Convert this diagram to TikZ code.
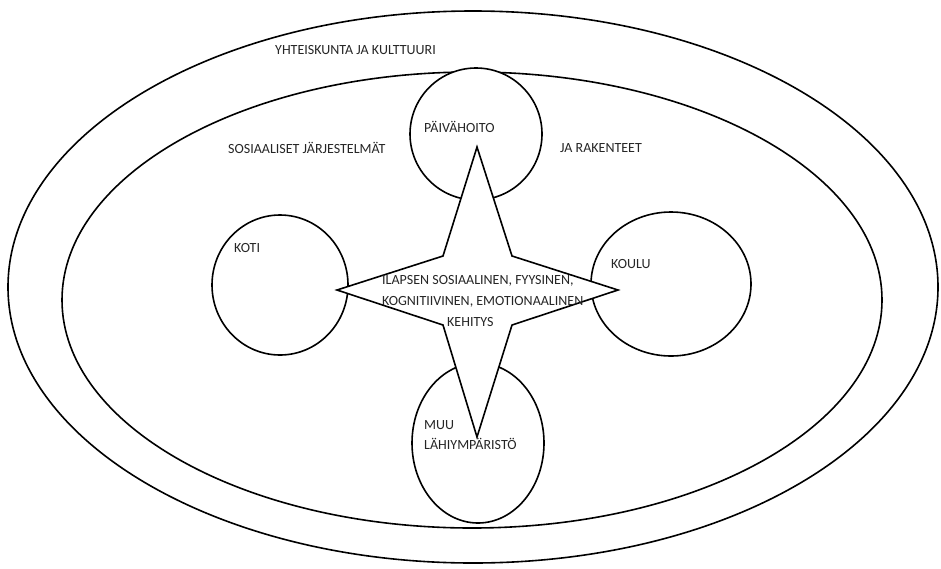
\documentclass[tikz,border=0pt]{standalone}
\usepackage{fontspec}
\setmainfont{Carlito}
\begin{document}
\begin{tikzpicture}[x=1pt,y=-1pt,
  shape line/.style={draw=black,line width=1.6pt},
  lbl/.style={anchor=west,inner sep=0pt,font=\fontsize{14}{16}\selectfont,text=black!85}]
\useasboundingbox (0,0) rectangle (941,568);
\fill[white] (0,0) rectangle (941,568);
% outer and inner ellipses
\draw[shape line] (473,287) ellipse [x radius=465, y radius=276];
\draw[shape line] (472,300) ellipse [x radius=410, y radius=228];
% four circles
\draw[shape line,fill=white] (476,134) ellipse [x radius=66, y radius=66];
\draw[shape line,fill=white] (280,285) ellipse [x radius=68, y radius=70];
\draw[shape line,fill=white] (671,284) ellipse [x radius=80, y radius=72];
\draw[shape line,fill=white] (478,443) ellipse [x radius=66, y radius=80];
% star
\draw[shape line,fill=white,line join=miter]
  (477,147) -- (512,256) -- (618,290) -- (512,325) -- (477,437)
  -- (443,325) -- (337,290) -- (443,256) -- cycle;
% labels
\node[lbl] (yk) at (275,50) {YHTEISKUNTA JA KULTTUURI};
\node[lbl] (sj) at (228,148) {SOSIAALISET JÄRJESTELMÄT};
\node[lbl] (jr) at (560,148) {JA RAKENTEET};
\node[lbl] (ph) at (424,127) {PÄIVÄHOITO};
\node[lbl] (koti) at (234,248) {KOTI};
\node[lbl] (koulu) at (611,264) {KOULU};
\node[lbl] (k1) at (382,281) {ILAPSEN SOSIAALINEN, FYYSINEN,};
\node[lbl] (k2) at (382,302) {KOGNITIIVINEN, EMOTIONAALINEN};
\node[lbl] (k3) at (447,322) {KEHITYS};
\node[lbl] (m1) at (424,425) {MUU};
\node[lbl] (m2) at (424,444) {LÄHIYMPÄRISTÖ};
\end{tikzpicture}
\end{document}
